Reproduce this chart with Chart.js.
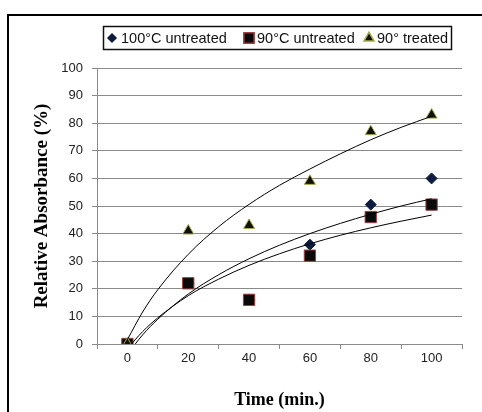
<!DOCTYPE html>
<html>
<head>
<meta charset="utf-8">
<script src="https://cdn.jsdelivr.net/npm/chart.js@4/dist/chart.umd.min.js"></script>
<style>
  body { margin: 0; background: #fff; }
  #wrap { position: relative; width: 482px; height: 412px; }
  #frame { position: absolute; left: 7px; top: 14px; width: 480px; height: 400px;
           border-left: 2px solid #000; border-top: 2px solid #000; }
  #c { position: absolute; left: 0; top: 0; }
</style>
</head>
<body>
<div id="wrap">
  <div id="frame"></div>
  <canvas id="c" width="482" height="412"></canvas>
</div>
<script>
// measured points
var times = [0, 20, 40, 60, 80, 100];
var untreated100 = [0, 22, 16, 36, 50.5, 60];
var untreated90 = [0, 22, 16, 32, 46, 50.5];
var treated90 = [0, 41, 43, 59, 77, 83];

// trendlines
var trendTimes = [0, 5, 10, 20, 30, 40, 50, 60, 70, 80, 90, 100];
var trend100 = [-3.7, 3.3, 9.0, 18.1, 25.1, 30.9, 35.8, 40.0, 43.7, 47.0, 50.0, 52.6];
var trend90u = [-1.7, 4.5, 9.5, 17.5, 23.5, 28.5, 32.7, 36.3, 39.4, 42.1, 44.5, 46.7];
var trend90t = [1.6, 11.6, 19.7, 32.5, 42.5, 50.6, 57.5, 63.4, 68.9, 74.0, 78.5, 82.5];

var seriesLabels = ['100°C untreated', '90°C untreated', '90° treated'];
var xTicks = [-10, 0, 10, 20, 30, 40, 50, 60, 70, 80, 90, 100, 110];

function pts(xs, ys) {
    return xs.map(function (x, i) { return { x: x, y: ys[i] }; });
}

function trend(ys) {
    return {
        type: 'line',
        data: pts(trendTimes, ys),
        borderColor: '#000',
        borderWidth: 1,
        pointRadius: 0,
        cubicInterpolationMode: 'monotone',
        fill: false,
        order: 0
    };
}

var legendPlugin = {
    id: 'boxLegend',
    afterDraw: function (chart) {
        var c = chart.ctx;
        var xs = [[112, 121], [249, 257], [369, 377]];
        c.save();
        c.strokeStyle = '#111';
        c.lineWidth = 1.5;
        c.strokeRect(103.5, 26.5, 348, 23);
        c.font = '14.5px "Liberation Sans", Arial, sans-serif';
        c.textBaseline = 'middle';
        for (var i = 0; i < 3; i++) {
            var ds = chart.data.datasets[i];
            c.fillStyle = ds.backgroundColor;
            c.strokeStyle = ds.borderColor;
            Chart.helpers.drawPoint(c, {
                pointStyle: ds.pointStyle,
                radius: ds.legendRadius,
                rotation: 0,
                borderWidth: 1
            }, xs[i][0], 38);
            c.fillStyle = '#111';
            c.fillText(ds.label, xs[i][1], 38.5);
        }
        c.restore();
    }
};

var ctx = document.getElementById('c');

var chartGraph = new Chart(ctx, {
    type: 'scatter',
    data: {
        datasets: [{
            label: seriesLabels[0],
            data: pts(times, untreated100),
            pointStyle: 'rectRot',
            pointRadius: 5.5,
            backgroundColor: '#0d1b3e',
            borderColor: '#0d1b3e',
            borderWidth: 1,
            legendRadius: 4,
            order: 3
        }, {
            label: seriesLabels[1],
            data: pts(times, untreated90),
            pointStyle: 'rect',
            pointRadius: 8,
            backgroundColor: '#0a0a0a',
            borderColor: '#a04040',
            borderWidth: 1,
            legendRadius: 7.3,
            order: 2
        }, {
            label: seriesLabels[2],
            data: pts(times, treated90),
            pointStyle: 'triangle',
            pointRadius: 6.4,
            backgroundColor: '#111108',
            borderColor: '#a8ac50',
            borderWidth: 1,
            legendRadius: 5.8,
            order: 1
        },
        trend(trend100),
        trend(trend90u),
        trend(trend90t)]
    },
    options: {
        responsive: false,
        animation: false,
        layout: { padding: { top: 68, right: 20, left: 0, bottom: 0 } },
        plugins: {
            legend: { display: false },
            tooltip: { enabled: false }
        },
        scales: {
            x: {
                type: 'linear',
                min: -10,
                max: 110,
                afterBuildTicks: function (s) {
                    s.ticks = xTicks.map(function (v) { return { value: v }; });
                },
                afterFit: function (s) { s.height = 68; },
                grid: {
                    drawOnChartArea: false,
                    tickLength: 5,
                    tickColor: function (c) {
                        return c.tick && c.tick.value % 20 === 0 ? 'rgba(0,0,0,0)' : '#8a8a8a';
                    }
                },
                border: { color: '#8a8a8a' },
                ticks: {
                    autoSkip: false,
                    maxRotation: 0,
                    padding: 2,
                    color: '#222',
                    font: { family: '"Liberation Sans", Arial, sans-serif', size: 13 },
                    callback: function (v) { return v % 20 === 0 ? v : ''; }
                },
                title: {
                    display: true,
                    text: 'Time (min.)',
                    color: '#000',
                    padding: { top: 0, bottom: 1 },
                    font: { family: '"Liberation Serif", "Times New Roman", serif', size: 18, weight: 'bold' }
                }
            },
            y: {
                min: 0,
                max: 100,
                afterFit: function (s) { s.width = 97; },
                grid: { color: '#8a8a8a', tickLength: 5 },
                border: { color: '#8a8a8a' },
                ticks: {
                    stepSize: 10,
                    padding: 9,
                    color: '#222',
                    font: { family: '"Liberation Sans", Arial, sans-serif', size: 13 }
                },
                title: {
                    display: true,
                    text: 'Relative Absorbance (%)',
                    color: '#000',
                    padding: { top: 31, bottom: 0 },
                    font: { family: '"Liberation Serif", "Times New Roman", serif', size: 19, weight: 'bold' }
                }
            }
        }
    },
    plugins: [legendPlugin]
});
</script>
</body>
</html>
